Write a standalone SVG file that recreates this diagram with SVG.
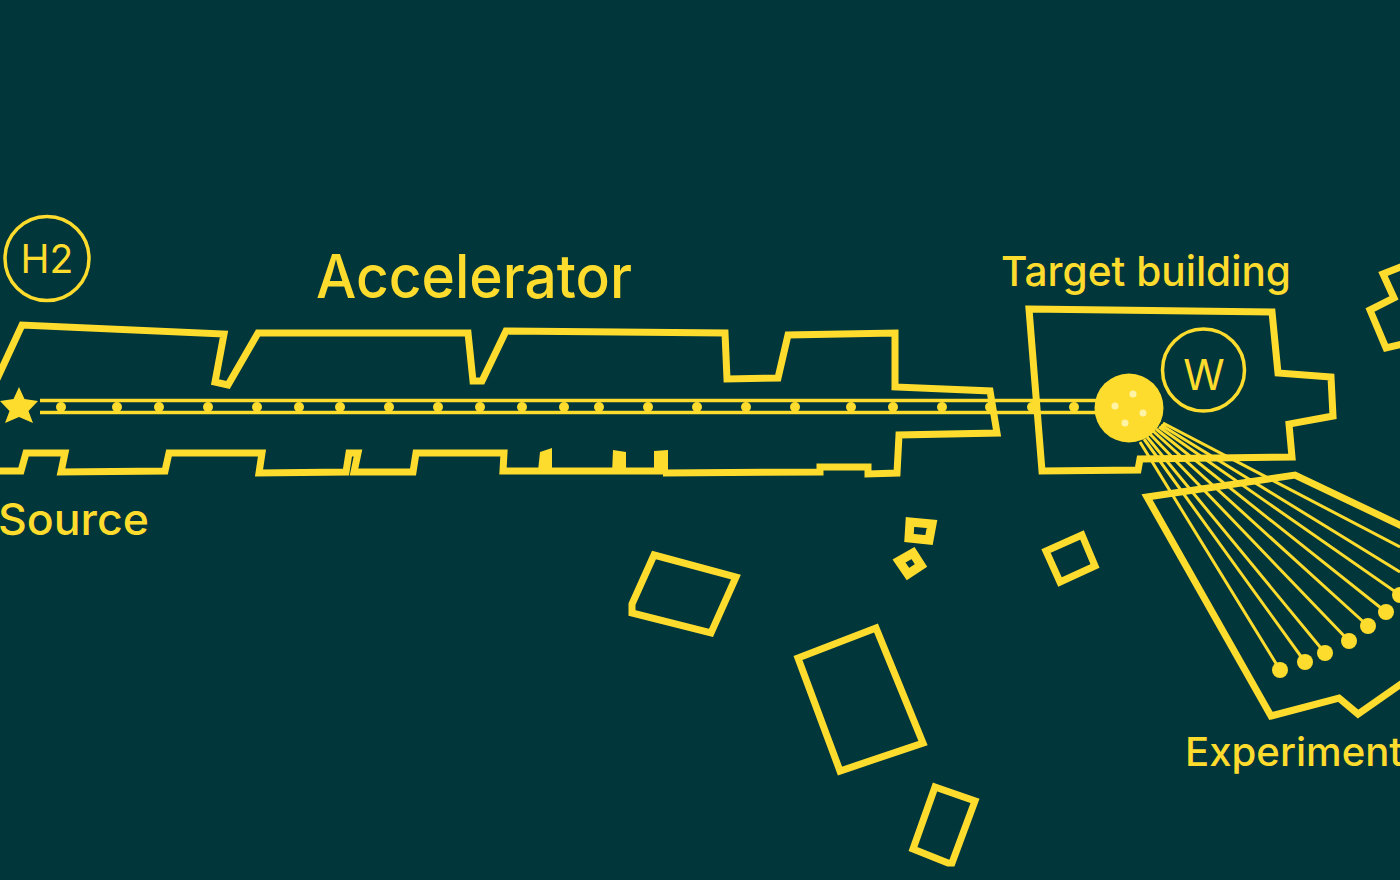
<svg xmlns="http://www.w3.org/2000/svg" width="1400" height="880" viewBox="0 0 1400 880">
<style>
.o{fill:none;stroke:#fddc2e;stroke-width:7;stroke-linejoin:miter}
.s{fill:none;stroke:#fddc2e;stroke-width:9;stroke-linejoin:miter}
.f{fill:#fddc2e}
.b{fill:none;stroke:#fddc2e;stroke-width:3.500}
.r{fill:none;stroke:#fddc2e;stroke-width:3}
.t{font-family:"Inter","Liberation Sans",sans-serif;fill:#fddc2e}
.w{fill:#fff3a6}
</style>
<rect width="1400" height="880" fill="#01363a"/>
<g id="accelerator">
<path class="o" d="M-3,379L22,325L224,334L215,382L228,385L258,333L468,333L473,381L482,381L506,331L725,333L727,379L778,378L788,335L895,333L895,387L990,391L997,433L899,435L897,473L868,474L868,467L820,467L820,472L663,473"/>
<path class="o" d="M-3,471L21,471L26,453L65,453L61,472L165,471L169,453L262,453L259,473L346,472L349,453L358,453L354,472L413,472L416,453L504,453L503,471L663,471"/>
<polygon class="f" points="540,452 552,448 552,471 538,471"/>
<polygon class="f" points="613,450 626,452 626,474 612,474"/>
<polygon class="f" points="654,451 668,450 668,474 654,474"/>
<text class="t" x="316" y="298" font-size="60" font-weight="450" textLength="316" lengthAdjust="spacingAndGlyphs">Accelerator</text>
</g>
<g id="h2">
<circle class="b" cx="47" cy="258.500" r="42"/>
<text class="t" x="47" y="273" font-size="39" text-anchor="middle">H2</text>
</g>
<g id="source">
<polygon class="f" points="19,387 24.500,399 38,401 28.500,411 33,423 19,417 5,423 9.500,411 0,401 13.500,399"/>
<text class="t" x="-2" y="535" font-size="44" font-weight="450" textLength="151" lengthAdjust="spacingAndGlyphs">Source</text>
</g>
<g id="connectors">
<path class="b" d="M40,400.500H1100M40,412.500H1100"/>
<g class="f">
<circle cx="61" cy="407" r="5"/><circle cx="117" cy="407" r="5"/><circle cx="159" cy="407" r="5"/><circle cx="208" cy="407" r="5"/><circle cx="257" cy="407" r="5"/><circle cx="299" cy="407" r="5"/><circle cx="340" cy="407" r="5"/><circle cx="389" cy="407" r="5"/><circle cx="438" cy="407" r="5"/><circle cx="480" cy="407" r="5"/><circle cx="522" cy="407" r="5"/><circle cx="564" cy="407" r="5"/><circle cx="599" cy="407" r="5"/><circle cx="648" cy="407" r="5"/><circle cx="697" cy="407" r="5"/><circle cx="746" cy="407" r="5"/><circle cx="795" cy="407" r="5"/><circle cx="851" cy="407" r="5"/><circle cx="893" cy="407" r="5"/><circle cx="942" cy="407" r="5"/><circle cx="990" cy="407" r="5"/><circle cx="1032" cy="407" r="5"/><circle cx="1074" cy="407" r="5"/>
</g>
<path class="r" d="M1140,442L1280,670M1144,439L1305,662M1147,437L1325,653M1150,434L1349,641M1153,431L1368,626M1156,429L1386,612M1159,427L1400,595M1161,425L1400,572M1163,423L1400,547"/>
<g class="f">
<circle cx="1280" cy="670" r="8"/><circle cx="1305" cy="662" r="8"/><circle cx="1325" cy="653" r="8"/><circle cx="1349" cy="641" r="8"/><circle cx="1368" cy="626" r="8"/><circle cx="1386" cy="612" r="8"/><circle cx="1400" cy="595" r="8"/>
</g>
</g>
<g id="target-building">
<polygon class="o" points="1029,309 1272,312 1278,373 1331,377 1333,416 1289,424 1292,457 1140,459 1138,470 1042,471"/>
<text class="t" x="1001" y="286" font-size="41" font-weight="450" textLength="290" lengthAdjust="spacingAndGlyphs">Target building</text>
</g>
<g id="w">
<circle class="b" cx="1203.500" cy="370" r="41"/>
<text class="t" x="1204" y="390" font-size="42" text-anchor="middle">W</text>
</g>
<g id="tungsten-target">
<circle class="f" cx="1129" cy="408" r="34.500"/>
<circle class="w" cx="1133" cy="394" r="3.500"/><circle class="w" cx="1115" cy="406" r="3.500"/><circle class="w" cx="1143" cy="413" r="3.500"/><circle class="w" cx="1125" cy="423" r="3.500"/>
</g>
<g id="experiment">
<path class="o" d="M1404,527L1295,475L1147,497L1271,716L1339,698L1358,714L1404,682"/>
<text class="t" x="1185" y="766" font-size="40" font-weight="450" textLength="218" lengthAdjust="spacingAndGlyphs">Experiment</text>
</g>
<g id="right-building"><path class="o" d="M1403,266L1383,274L1394,298L1370,310L1386,348L1403,344"/></g>
<g id="box-a"><polygon class="o" points="654,555 736,577 711,633 632,613 632,604"/></g>
<g id="box-b"><polygon class="o" points="798,658 876,628 923,743 840,771"/></g>
<g id="box-c"><polygon class="o" points="935,787 975,801 952,863 948,863 913,849"/></g>
<g id="box-d"><polygon class="s" points="910,522 932,524 929,540 909,538"/></g>
<g id="box-e"><polygon class="s" points="913,553 921,565.500 908,574 899,561"/></g>
<g id="box-f"><polygon class="o" points="1082,535 1095,566 1060,582 1046,551"/></g>
</svg>
